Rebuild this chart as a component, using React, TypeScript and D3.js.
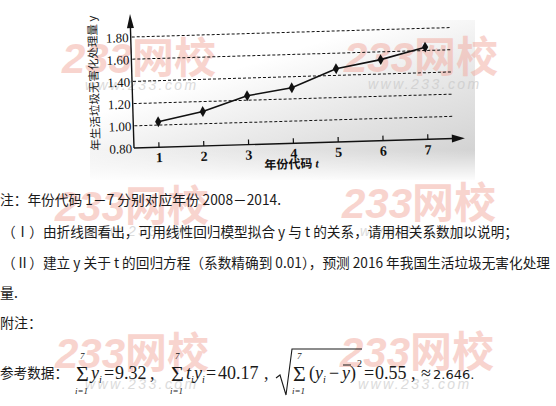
import React from "react";
import * as d3 from "d3";

const tCodes = [1, 2, 3, 4, 5, 6, 7];
const yValues = [1.03, 1.11, 1.24, 1.3, 1.46, 1.53, 1.63];
const yTicks = [0.8, 1.0, 1.2, 1.4, 1.6, 1.8];
const gridValues = [1.0, 1.2, 1.4, 1.6, 1.8];
const yTitle = "年生活垃圾无害化处理量 y";
const xTitle = "年份代码";

const W = 556;
const H = 406;

const serif = "'Liberation Serif', 'DejaVu Serif', serif";
const cjk = "'Noto Sans CJK SC', 'Noto Sans', sans-serif";

export default function App() {
  const x = d3.scaleLinear().domain([1, 7]).range([25, 294]);
  const y = d3.scaleLinear().domain([0.8, 1.8]).range([0, -111]);
  const line = d3
    .line<number>()
    .x((_, i) => x(tCodes[i]))
    .y((v) => y(v));
  const diamond = d3.symbol().type(d3.symbolDiamond).size(34)() as string;

  const marks = [
    { x: 62, y: 73, wx: 85, wy: 90 },
    { x: 344, y: 72, wx: 368, wy: 89 },
    { x: 55, y: 221, wx: 85, wy: 236 },
    { x: 342, y: 218, wx: 360, wy: 236 },
    { x: 55, y: 368, wx: 85, wy: 389 },
    { x: 340, y: 367, wx: 358, wy: 389 },
  ];

  const sums = [{ x: 76 }, { x: 171 }, { x: 293 }];

  return (
    <svg
      width={W}
      height={H}
      style={{ position: "absolute", left: 0, top: 0, background: "#fff" }}
    >
      <defs>
        <linearGradient id="shade" x1="0.15" y1="0.05" x2="0.85" y2="0.95">
          <stop offset="0.3" stopColor="#d6d6d6" stopOpacity="0" />
          <stop offset="0.75" stopColor="#d9d9d9" stopOpacity="0.8" />
          <stop offset="1" stopColor="#d2d2d2" stopOpacity="1" />
        </linearGradient>
        <linearGradient id="fadeB" x1="0" y1="0" x2="0" y2="1">
          <stop offset="0.8" stopColor="#fff" stopOpacity="0" />
          <stop offset="1" stopColor="#fff" stopOpacity="1" />
        </linearGradient>
      </defs>
      <rect x={0} y={0} width={W} height={H} fill="#fff" />
      <rect x={90} y={20} width={385} height={160} fill="url(#shade)" />
      <rect x={90} y={20} width={385} height={162} fill="url(#fadeB)" />

      {/* watermarks */}
      {marks.map((m, i) => (
        <g key={i}>
          <text
            x={m.x}
            y={m.y}
            fontFamily="'Liberation Sans', sans-serif"
            fontWeight={700}
            fontStyle="italic"
            fontSize={42}
            fill="#f2aa9f"
            opacity={0.5}
          >
            233
            <tspan fontFamily={cjk} fontStyle="normal" fontWeight={700}>
              网校
            </tspan>
          </text>
          <text
            x={m.wx}
            y={m.wy}
            fontFamily="'Liberation Sans', sans-serif"
            fontStyle="italic"
            fontSize={14}
            letterSpacing={2.4}
            fill="#c4c4c4"
            opacity={0.6}
          >
            www.233.com
          </text>
        </g>
      ))}

      <g transform="translate(134,148) rotate(-1.7)">
        {gridValues.map((v) => (
          <line
            key={v}
            x1={1}
            x2={320}
            y1={y(v)}
            y2={y(v)}
            stroke="#111"
            strokeWidth={1}
            strokeDasharray="3,2"
          />
        ))}
        <line x1={0} y1={0} x2={320} y2={0} stroke="#111" strokeWidth={1.4} />
        <path d="M331,0 L318,-4 L318,4 Z" fill="#111" />
        <line x1={0} y1={0} x2={0} y2={-122} stroke="#111" strokeWidth={1.4} />
        <path d="M0,-134 L-3.5,-120 L3.5,-120 Z" fill="#111" />
        {tCodes.map((t) => (
          <g key={t}>
            <line x1={x(t)} x2={x(t)} y1={0} y2={-5} stroke="#111" strokeWidth={1.2} />
            <text
              x={x(t)}
              y={15}
              textAnchor="middle"
              fontFamily={serif}
              fontWeight={700}
              fontSize={14}
              fill="#111"
            >
              {t}
            </text>
          </g>
        ))}
        {yTicks.map((v) => (
          <text
            key={v}
            x={-2}
            y={y(v) + 5}
            textAnchor="end"
            fontFamily={serif}
            fontSize={13}
            fill="#111"
          >
            {v.toFixed(2)}
          </text>
        ))}
        <text
          x={157}
          y={25}
          textAnchor="middle"
          fontFamily={cjk}
          fontWeight={700}
          fontSize={12}
          fill="#111"
        >
          {xTitle}
          <tspan fontFamily={serif} fontStyle="italic" dx={3}>
            t
          </tspan>
        </text>
        <text
          transform={`translate(-38,${-66}) rotate(-90)`}
          textAnchor="middle"
          fontFamily={cjk}
          fontSize={11.5}
          fill="#222"
          dy={4}
        >
          {yTitle}
        </text>
        <path d={line(yValues) as string} fill="none" stroke="#111" strokeWidth={1.6} />
        {yValues.map((v, i) => (
          <path
            key={i}
            d={diamond}
            transform={`translate(${x(tCodes[i])},${y(v)})`}
            fill="#111"
          />
        ))}
      </g>

      {/* problem text */}
      <g fontFamily={cjk} fontSize={14} fill="#1a1a1a">
        <text x={0} y={205} textLength={281} lengthAdjust="spacingAndGlyphs">
          注：年份代码 1－7 分别对应年份 2008－2014.
        </text>
        <text x={2} y={237} textLength={516} lengthAdjust="spacingAndGlyphs">
          （Ⅰ）由折线图看出，可用线性回归模型拟合 y 与 t 的关系，请用相关系数加以说明；
        </text>
        <text x={2} y={268} textLength={548} lengthAdjust="spacingAndGlyphs">
          （Ⅱ）建立 y 关于 t 的回归方程（系数精确到 0.01），预测 2016 年我国生活垃圾无害化处理
        </text>
        <text x={0} y={298}>量.</text>
        <text x={0} y={328}>附注：</text>
        <text x={0} y={378} textLength={68} lengthAdjust="spacingAndGlyphs">
          参考数据：
        </text>
      </g>

      {/* formula */}
      <g fontFamily={serif} fill="#1a1a1a">
        {sums.map((s, i) => (
          <g key={i}>
            <text x={s.x} y={381} fontSize={22}>Σ</text>
            <text x={s.x + 4} y={359} fontSize={9} fontStyle="italic">7</text>
            <text x={s.x - 1} y={394} fontSize={9} fontStyle="italic">i=1</text>
          </g>
        ))}
        <text x={91} y={379} fontSize={18} fontStyle="italic">y</text>
        <text x={99} y={383} fontSize={10} fontStyle="italic">i</text>
        <text x={104} y={379} fontSize={18}>=</text>
        <text x={115} y={379} fontSize={18}>9.32</text>
        <text x={150} y={379} fontSize={18}>,</text>

        <text x={186} y={379} fontSize={18} fontStyle="italic">t</text>
        <text x={191} y={383} fontSize={10} fontStyle="italic">i</text>
        <text x={194} y={379} fontSize={18} fontStyle="italic">y</text>
        <text x={202} y={383} fontSize={10} fontStyle="italic">i</text>
        <text x={206} y={379} fontSize={18}>=</text>
        <text x={218} y={379} fontSize={18}>40.17</text>
        <text x={264} y={379} fontSize={18}>,</text>

        <path
          d="M276,378 L280,375 L286,395 L292,349 L362,349"
          fill="none"
          stroke="#1a1a1a"
          strokeWidth={1.1}
        />
        <text x={309} y={379} fontSize={18}>(</text>
        <text x={315} y={379} fontSize={18} fontStyle="italic">y</text>
        <text x={323} y={383} fontSize={10} fontStyle="italic">i</text>
        <text x={329} y={379} fontSize={18}>−</text>
        <text x={342} y={379} fontSize={18} fontStyle="italic">y</text>
        <line x1={343} x2={351} y1={365} y2={365} stroke="#1a1a1a" strokeWidth={1} />
        <text x={350} y={379} fontSize={18}>)</text>
        <text x={357} y={367} fontSize={10}>2</text>
        <text x={364} y={379} fontSize={18}>=</text>
        <text x={375} y={379} fontSize={18}>0.55</text>
        <text x={411} y={379} fontSize={18}>,</text>
        <text x={421} y={379} fontSize={18}>≈</text>
        <text x={433} y={379} fontSize={13} fontFamily="'DejaVu Sans', sans-serif">
          2.646.
        </text>
      </g>
    </svg>
  );
}
